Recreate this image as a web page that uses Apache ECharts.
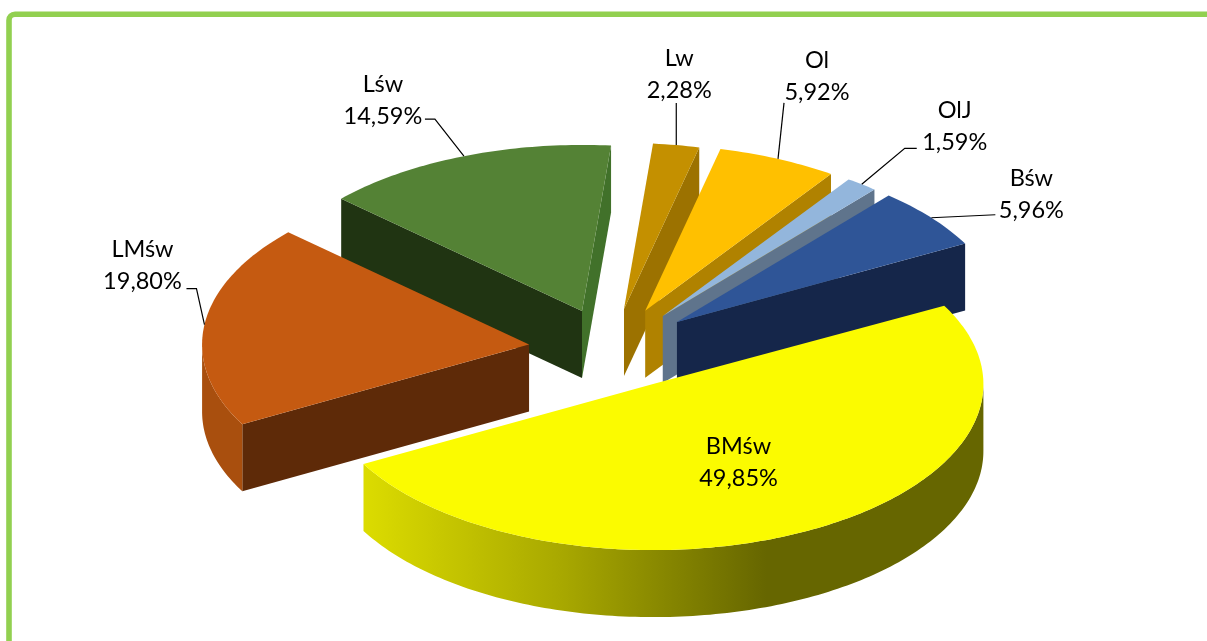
<!DOCTYPE html>
<html>
<head>
<meta charset="utf-8">
<style>html,body{margin:0;padding:0;background:#fff}#c{width:1207px;height:641px}</style>
<script src="https://cdn.jsdelivr.net/npm/echarts@6/dist/echarts.min.js"></script>
</head>
<body>
<div id="c"></div>
<script>
// ---- data ----
const categories = ['BMśw', 'LMśw', 'Lśw', 'Lw', 'Ol', 'OlJ', 'Bśw'];
const shares = [49.85, 19.80, 14.59, 2.28, 5.92, 1.59, 5.96];

// ---- layout / style ----
const center = [620, 345], radiusX = 327, radiusY = 166, depth = 67, startAngle = 28.2;
const explode = [0.22, 0.22, 0.22, 0.22, 0.22, 0.22, 0.22];
const widen = [1.01, 1, 1, 1, 1, 1, 1];
const nudge = [[-1.5, 7], [-19.5, 4], [-12, 0], [-7.5, 0], [-4, -1], [-1, 0], [1, 0]];
const paintOrder = [7, 2, 1, 3, 4, 5, 6];
const topColors = ['#fbfb00', '#c55a11', '#548235', '#c49000', '#ffc000', '#93b6dc', '#2f5597'];
const endFace = ['#dcdc00', '#5e2a08', '#41712a', '#9c7200', '#b08200', '#5f748c', '#15264a'];
const startFace = ['#666600', '#5e2a08', '#203412', '#9c7200', '#b08200', '#5f748c', '#15264a'];
const wallColors = [null, '#a94f0e', '#3f6c27', '#9c7200', '#b08200', '#5f748c', '#15264a'];
const labelOffset = [[-72, -68], [-62, -59], [-81, -56], [3, -71], [39, -83], [93, -58], [100, -23]];
const leaderOffset = [[], [[-8, -36], [-18, -36]], [[-29, -37], [-39, -37]], [[0, -42]], [[6, -56]], [[43, -36], [55, -36]], [[64, -3]]];
const labelFont = 'Lato';
const total = shares.reduce((a, b) => a + b, 0);

function ell(deg, w) {
  const r = deg * Math.PI / 180;
  return [radiusX * w * Math.cos(r), -radiusY * Math.sin(r)];
}
function sliceGeometry(i) {
  let before = 0;
  for (let k = 0; k < i; k++) before += shares[k];
  const a0 = startAngle - 360 * before / total;
  const a1 = a0 - 360 * shares[i] / total;
  const m = ell((a0 + a1) / 2, widen[i]);
  const apex = [center[0] + explode[i] * m[0] + nudge[i][0], center[1] + explode[i] * m[1] + nudge[i][1]];
  const arc = [];
  const n = Math.max(8, Math.round(a0 - a1));
  for (let s = 0; s <= n; s++) {
    const p = ell(a0 + (a1 - a0) * s / n, widen[i]);
    arc.push([apex[0] + p[0], apex[1] + p[1]]);
  }
  return { apex, arc, anchor: [apex[0] + m[0], apex[1] + m[1]] };
}
const down = p => [p[0], p[1] + depth];
function quad(a, b, fill, z2) {
  return { type: 'polygon', z2, shape: { points: [a, b, down(b), down(a)] }, style: { fill } };
}
function renderSlice(params, api) {
  const i = params.dataIndex;
  const g = sliceGeometry(i);
  const z2 = paintOrder[i];
  const kids = [];
  const first = g.arc[0], last = g.arc[g.arc.length - 1];
  // straight cut faces, visible only when the edge runs leftwards on screen
  if (g.apex[0] < last[0]) kids.push(quad(last, g.apex, endFace[i], z2));
  if (first[0] < g.apex[0]) kids.push(quad(g.apex, first, startFace[i], z2));
  // outer wall: the part of the arc that runs leftwards
  const run = [];
  g.arc.forEach((p, k) => {
    const nxt = g.arc[k + 1], prv = g.arc[k - 1];
    if ((nxt && nxt[0] < p[0]) || (prv && p[0] < prv[0])) run.push(p);
  });
  if (run.length > 1) {
    const fill = wallColors[i] || new echarts.graphic.LinearGradient(1, 0, 0, 0, [
      { offset: 0, color: '#666600' }, { offset: 0.35, color: '#666600' },
      { offset: 0.68, color: '#a8a800' }, { offset: 1, color: '#dcdc00' }
    ]);
    kids.push({ type: 'polygon', z2, shape: { points: run.concat(run.slice().reverse().map(down)) }, style: { fill } });
  }
  kids.push({ type: 'polygon', z2, shape: { points: [g.apex].concat(g.arc) }, style: { fill: topColors[i] } });
  // leader line
  if (leaderOffset[i].length) {
    const pts = [g.anchor].concat(leaderOffset[i].map(o => [g.anchor[0] + o[0], g.anchor[1] + o[1]]));
    kids.push({ type: 'polyline', z2: 20, shape: { points: pts }, style: { stroke: '#000', lineWidth: 1.2, fill: null } });
  }
  kids.push({
    type: 'text', z2: 30,
    style: {
      x: g.anchor[0] + labelOffset[i][0], y: g.anchor[1] + labelOffset[i][1],
      text: categories[i] + '\n' + api.value(0).toFixed(2).replace('.', ',') + '%',
      fill: '#000', fontFamily: labelFont, fontSize: 23.5, lineHeight: 32,
      align: 'center', verticalAlign: 'middle'
    }
  });
  return { type: 'group', children: kids };
}

const chart = echarts.init(document.getElementById('c'), null, { renderer: 'canvas' });
chart.setOption({
  animation: false,
  backgroundColor: '#fff',
  graphic: [{
    type: 'rect', z: -1, silent: true,
    shape: { x: 9, y: 14.2, width: 1400, height: 900, r: 6 },
    style: { fill: '#fff', stroke: '#92d050', lineWidth: 5.6 }
  }],
  series: [{
    type: 'custom',
    coordinateSystem: 'none',
    silent: true,
    clip: false,
    renderItem: renderSlice,
    data: shares.map((v, i) => ({ name: categories[i], value: [v] }))
  }]
});
</script>
</body>
</html>
